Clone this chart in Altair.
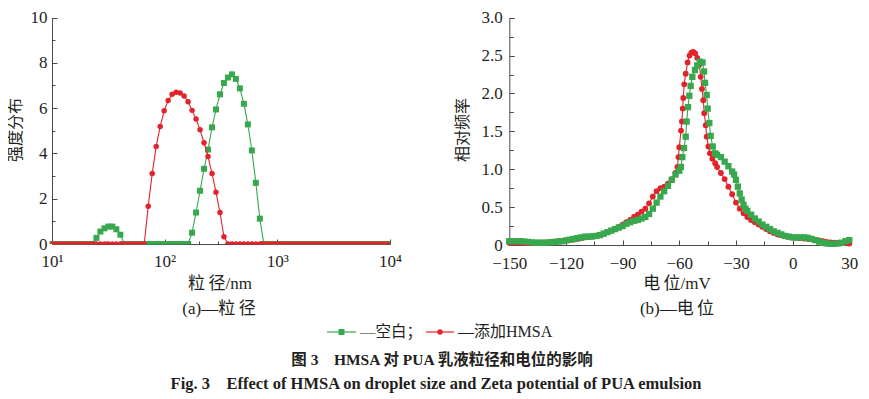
import altair as alt
import pandas as pd

# ---------------- data: panel (a) particle size distribution ----------------
size_nm = [10.12, 10.97, 11.91, 12.91, 14.01, 15.20, 16.50, 17.89, 19.41, 21.06,
           22.85, 24.79, 26.89, 29.17, 31.64, 34.33, 37.25, 40.41, 43.84, 47.56,
           51.60, 55.98, 60.73, 65.88, 71.47, 77.53, 84.11, 91.26, 98.99, 107.4,
           116.5, 126.4, 137.1, 148.8, 161.4, 175.1, 190.0, 206.1, 223.6, 242.6,
           263.2, 285.5, 309.7, 336.0, 364.5, 395.5, 429.0, 465.5, 505.0, 547.8,
           594.3, 644.8, 699.5, 758.8, 823.2, 893.1, 968.9, 1051, 1140, 1237,
           1342, 1456, 1580, 1714, 1859, 2017, 2188, 2374, 2576, 2794,
           3031, 3289, 3568, 3870, 4199, 4555, 4942, 5361, 5816, 6310,
           6845, 7426, 8057, 8740, 9483]

blank_intensity = [0, 0, 0, 0, 0, 0, 0, 0, 0, 0,
                   0, 0.27, 0.55, 0.69, 0.77, 0.77, 0.65, 0.41, 0, 0,
                   0, 0, 0, 0, 0, 0, 0, 0, 0, 0,
                   0, 0, 0, 0, 0, 0.50, 1.39, 2.35, 3.32, 4.17,
                   5.15, 5.94, 6.61, 7.11, 7.35, 7.49, 7.29, 6.87, 6.19, 5.28,
                   4.13, 2.70, 1.12, 0, 0, 0, 0, 0, 0, 0,
                   0, 0, 0, 0, 0, 0, 0, 0, 0, 0,
                   0, 0, 0, 0, 0, 0, 0, 0, 0, 0,
                   0, 0, 0, 0, 0]

hmsa_intensity = [0, 0, 0, 0, 0, 0, 0, 0, 0, 0,
                  0, 0, 0, 0, 0, 0, 0, 0, 0, 0,
                  0, 0, 0, 0, 1.67, 3.11, 4.31, 5.19, 5.88, 6.34,
                  6.61, 6.70, 6.67, 6.53, 6.28, 5.90, 5.52, 5.04, 4.47, 3.86,
                  3.11, 2.29, 1.39, 0.32, 0, 0, 0, 0, 0, 0,
                  0, 0, 0, 0, 0, 0, 0, 0, 0, 0,
                  0, 0, 0, 0, 0, 0, 0, 0, 0, 0,
                  0, 0, 0, 0, 0, 0, 0, 0, 0, 0,
                  0, 0, 0, 0, 0]

# ---------------- data: panel (b) zeta potential distribution ----------------
hmsa_mv = [-150, -148, -146, -144, -142, -140, -138, -136, -134, -132,
           -130, -128, -126, -124, -122, -120, -118, -116, -114, -112,
           -110, -108, -106, -104, -102, -100, -98, -96, -94, -92,
           -90, -88, -86, -84, -82, -80, -78, -76, -74, -72,
           -70, -68, -66, -64, -62, -61, -60.5, -60, -59.1, -58.6,
           -58.2, -57.9, -57.4, -56.6, -55.6, -54.6, -53.6, -52.6, -51.6, -50.5,
           -49.4, -48.7, -48.0, -47.3, -46.8, -46.0, -45.5, -44.6, -43.8, -42.5,
           -41, -40, -38, -36, -34, -32, -30, -28, -26, -24,
           -22, -20, -18, -16, -14, -12, -10, -8, -6, -4,
           -2, 0, 2, 4, 6, 8, 10, 12, 14, 16,
           18, 20, 22, 24, 26, 28, 30]
hmsa_freq = [0.03, 0.03, 0.03, 0.03, 0.025, 0.025, 0.025, 0.025, 0.03, 0.03,
             0.035, 0.04, 0.045, 0.05, 0.055, 0.06, 0.065, 0.07, 0.08, 0.09,
             0.10, 0.105, 0.11, 0.12, 0.135, 0.15, 0.17, 0.19, 0.21, 0.24,
             0.27, 0.30, 0.33, 0.37, 0.40, 0.44, 0.48, 0.55, 0.64, 0.71,
             0.75, 0.77, 0.81, 0.87, 0.95, 1.03, 1.16, 1.29, 1.51, 1.63,
             1.80, 1.94, 2.12, 2.26, 2.41, 2.50, 2.54, 2.55, 2.53, 2.47,
             2.38, 2.22, 2.06, 1.91, 1.74, 1.58, 1.43, 1.30, 1.21, 1.14,
             1.08, 1.03, 0.95, 0.87, 0.77, 0.67, 0.56, 0.48, 0.42, 0.37,
             0.33, 0.30, 0.27, 0.24, 0.21, 0.18, 0.16, 0.14, 0.13, 0.12,
             0.11, 0.10, 0.095, 0.09, 0.085, 0.08, 0.075, 0.065, 0.06, 0.05,
             0.04, 0.035, 0.03, 0.03, 0.025, 0.025, 0.02]

blank_mv = [-150, -148, -146, -144, -142, -140, -138, -136, -134, -132,
            -130, -128, -126, -124, -122, -120, -118, -116, -114, -112,
            -110, -108, -106, -104, -102, -100, -98, -96, -94, -92,
            -90, -88, -86, -84, -82, -80, -78, -76, -74, -72,
            -70, -68, -66, -64, -62, -60, -59.2, -58.4, -57.5, -56.6,
            -56.1, -55.4, -54.7, -54.0, -53.1, -51.7, -50.5, -49.1, -47.7, -46.9,
            -46.4, -45.5, -45.0, -44.1, -43.4, -42.3, -41.0, -40, -38, -36,
            -34, -32, -31, -30, -29, -28, -27, -26, -25, -24,
            -22, -20, -18, -16, -14, -12, -10, -8, -6, -4,
            -2, 0, 2, 4, 6, 8, 10, 12, 14, 16,
            18, 20, 22, 24, 26, 28, 30]
blank_freq = [0.05, 0.05, 0.05, 0.05, 0.045, 0.04, 0.035, 0.03, 0.03, 0.03,
              0.03, 0.035, 0.04, 0.045, 0.05, 0.06, 0.07, 0.08, 0.09, 0.10,
              0.11, 0.11, 0.115, 0.12, 0.13, 0.15, 0.17, 0.19, 0.21, 0.23,
              0.25, 0.28, 0.30, 0.32, 0.33, 0.35, 0.37, 0.41, 0.48, 0.56,
              0.64, 0.71, 0.78, 0.86, 0.93, 0.98, 1.03, 1.16, 1.28, 1.43,
              1.63, 1.82, 1.97, 2.10, 2.22, 2.31, 2.37, 2.42, 2.41, 2.29,
              2.14, 1.98, 1.80, 1.61, 1.44, 1.30, 1.21, 1.19, 1.16, 1.10,
              1.04, 0.97, 0.93, 0.86, 0.77, 0.68, 0.60, 0.53, 0.48, 0.45,
              0.40, 0.35, 0.31, 0.27, 0.24, 0.21, 0.18, 0.16, 0.14, 0.12,
              0.11, 0.10, 0.10, 0.10, 0.10, 0.095, 0.08, 0.065, 0.045, 0.03,
              0.02, 0.015, 0.015, 0.02, 0.03, 0.05, 0.065]

# tick positions
a_x_major = [10, 100, 1000, 10000]
a_x_minor = [20, 30, 40, 50, 60, 70, 80, 90, 200, 300, 400, 500, 600, 700, 800, 900,
             2000, 3000, 4000, 5000, 6000, 7000, 8000, 9000]
a_y_major = [0, 2, 4, 6, 8, 10]
a_y_minor = [1, 3, 5, 7, 9]
b_x_major = [-150, -120, -90, -60, -30, 0, 30]
b_x_minor = [-135, -105, -75, -45, -15, 15]
b_y_major = [0, 0.5, 1.0, 1.5, 2.0, 2.5, 3.0]
b_y_minor = [0.25, 0.75, 1.25, 1.75, 2.25, 2.75]

# ---------------- styling ----------------
GREEN = "#38a84e"
RED = "#e3232b"
SERIF = "Liberation Serif, Noto Sans CJK SC"
TXT = "#231f20"
AXC = "#4a4a4a"
W, H = 853, 390

df_a_blank = pd.DataFrame({"size": size_nm, "val": blank_intensity})
df_a_hmsa = pd.DataFrame({"size": size_nm, "val": hmsa_intensity})
df_b_blank = pd.DataFrame({"mv": blank_mv, "val": blank_freq})
df_b_hmsa = pd.DataFrame({"mv": hmsa_mv, "val": hmsa_freq})
one = pd.DataFrame({"k": [0]})

A_XR, A_YR = [44, 382], [236, 9.5]
B_XR, B_YR = [501.3, 841.3], [237, 9.7]


def sax():
    return alt.Scale(type="log", domain=[10, 10000], range=A_XR, nice=False)


def say():
    return alt.Scale(domain=[0, 10], range=A_YR, nice=False, zero=False)


def sbx():
    return alt.Scale(domain=[-150, 30], range=B_XR, nice=False, zero=False)


def sby():
    return alt.Scale(domain=[0, 3], range=B_YR, nice=False, zero=False)


lab = dict(labelFont=SERIF, labelFontSize=17, labelColor=TXT, grid=False, title=None,
           domainColor=AXC, domainWidth=1, labelFlush=False, labelOverlap=False)


def tick_axis(orient, offset, values, size):
    return alt.Axis(orient=orient, offset=offset, values=values, labels=False, domain=False,
                    ticks=True, tickSize=size, tickColor=AXC, tickWidth=1, grid=False, title=None)


layers = []

# ----- panel (a) -----
a_x_axis = alt.Axis(orient="bottom", offset=A_YR[0] - H, values=a_x_major, ticks=False,
                    labelPadding=9,
                    labelExpr="datum.value == 10 ? '10¹' : datum.value == 100 ? '10²' : datum.value == 1000 ? '10³' : '10⁴'",
                    **lab)
a_y_axis = alt.Axis(orient="left", offset=-A_XR[0], values=a_y_major, ticks=False,
                    labelPadding=5, **lab)

half_square = "M-1,-1H1V0H-1Z"
half_circle = "M-1,0A1,1,0,0,1,1,0Z"

for df, color, shape, half, size, first in [
    (df_a_blank, GREEN, "square", half_square, 36, True),
    (df_a_hmsa, RED, "circle", half_circle, 30, False),
]:
    layers.append(alt.Chart(df).mark_line(color=color, strokeWidth=1.1).encode(
        x=alt.X("size:Q", scale=sax(), axis=a_x_axis if first else None),
        y=alt.Y("val:Q", scale=say(), axis=a_y_axis if first else None)))
    layers.append(alt.Chart(df).transform_filter("datum.val > 0").mark_point(
        shape=shape, filled=True, size=size, color=color, opacity=1).encode(
        x=alt.X("size:Q", scale=sax(), axis=None),
        y=alt.Y("val:Q", scale=say(), axis=None)))
    layers.append(alt.Chart(df).transform_filter("datum.val == 0").mark_point(
        shape=half, filled=True, size=size, color=color, opacity=1).encode(
        x=alt.X("size:Q", scale=sax(), axis=None),
        y=alt.Y("val:Q", scale=say(), axis=None)))

for vals, sz in [(a_x_major, 5), (a_x_minor, 3)]:
    layers.append(alt.Chart(df_a_blank).mark_point(opacity=0).encode(
        x=alt.X("size:Q", scale=sax(), axis=tick_axis("top", -A_YR[0], vals, sz))))
for vals, sz in [(a_y_major, 5), (a_y_minor, 3)]:
    layers.append(alt.Chart(df_a_blank).mark_point(opacity=0).encode(
        y=alt.Y("val:Q", scale=say(), axis=tick_axis("right", A_XR[0] - W, vals, sz))))

# ----- panel (b) -----
b_x_axis = alt.Axis(orient="bottom", offset=B_YR[0] - H, values=b_x_major, ticks=False,
                    labelPadding=10, **lab)
b_y_axis = alt.Axis(orient="left", offset=-B_XR[0], values=b_y_major, ticks=False,
                    labelPadding=7,
                    labelExpr="datum.value == 0 ? '0' : format(datum.value, '.1f')", **lab)

layers.append(alt.Chart(df_b_hmsa).mark_line(
    color=RED, strokeWidth=1.1,
    point=alt.OverlayMarkDef(shape="circle", filled=True, size=34, color=RED, opacity=1)).encode(
    x=alt.X("mv:Q", scale=sbx(), axis=b_x_axis),
    y=alt.Y("val:Q", scale=sby(), axis=b_y_axis)))
layers.append(alt.Chart(df_b_blank).mark_line(
    color=GREEN, strokeWidth=1.1,
    point=alt.OverlayMarkDef(shape="square", filled=True, size=40, color=GREEN, opacity=1)).encode(
    x=alt.X("mv:Q", scale=sbx(), axis=None),
    y=alt.Y("val:Q", scale=sby(), axis=None)))

for vals, sz in [(b_x_major, 5), (b_x_minor, 4)]:
    layers.append(alt.Chart(df_b_blank).mark_point(opacity=0).encode(
        x=alt.X("mv:Q", scale=sbx(), axis=tick_axis("top", -B_YR[0], vals, sz))))
for vals, sz in [(b_y_major, 5), (b_y_minor, 4)]:
    layers.append(alt.Chart(df_b_blank).mark_point(opacity=0).encode(
        y=alt.Y("val:Q", scale=sby(), axis=tick_axis("right", B_XR[0] - W, vals, sz))))


# ----- texts -----
def text(txt, x, y, size=16, angle=None, weight="normal", align="center", baseline="middle"):
    kw = dict(text=txt, fontSize=size, font=SERIF, color=TXT, align=align,
              baseline=baseline, fontWeight=weight)
    if angle is not None:
        kw["angle"] = angle
    return alt.Chart(one).mark_text(**kw).encode(x=alt.value(x), y=alt.value(y))


layers += [
    text("强度分布", 8, 122, angle=270),
    text("粒\u2009径/nm", 212, 276, size=17),
    text("(a)—粒\u2009径", 211, 300.5, size=17),
    text("相对频率", 455, 122, angle=270),
    text("电\u2009位/mV", 669, 276, size=17),
    text("(b)—电\u2009位", 669, 300.5, size=17),
]

# legend
layers += [
    alt.Chart(one).mark_rule(color=GREEN, strokeWidth=1.2).encode(
        x=alt.value(319), x2=alt.value(348), y=alt.value(324)),
    alt.Chart(one).mark_point(shape="square", filled=True, size=36, color=GREEN, opacity=1).encode(
        x=alt.value(333.5), y=alt.value(324)),
    text("—空白；", 352, 324, size=15.5, align="left"),
    alt.Chart(one).mark_rule(color=RED, strokeWidth=1.2).encode(
        x=alt.value(418), x2=alt.value(446), y=alt.value(324)),
    alt.Chart(one).mark_point(shape="circle", filled=True, size=30, color=RED, opacity=1).encode(
        x=alt.value(432), y=alt.value(324)),
    text("—添加HMSA", 450, 324, size=16, align="left"),
]

# caption
layers += [
    text("图 3\u3000HMSA 对 PUA 乳液粒径和电位的影响", 434, 357, size=15.5, weight="bold",
         baseline="alphabetic"),
    text("Fig. 3\u2003Effect of HMSA on droplet size and Zeta potential of PUA emulsion",
         428, 381, size=16.5, weight="bold", baseline="alphabetic"),
]

chart = alt.layer(*layers).resolve_scale(x="independent", y="independent").resolve_axis(
    x="independent", y="independent").properties(
    width=W, height=H, autosize="none", padding=0).configure_view(strokeWidth=0)

chart.save("out.html", embed_options={"renderer": "svg", "actions": False})
